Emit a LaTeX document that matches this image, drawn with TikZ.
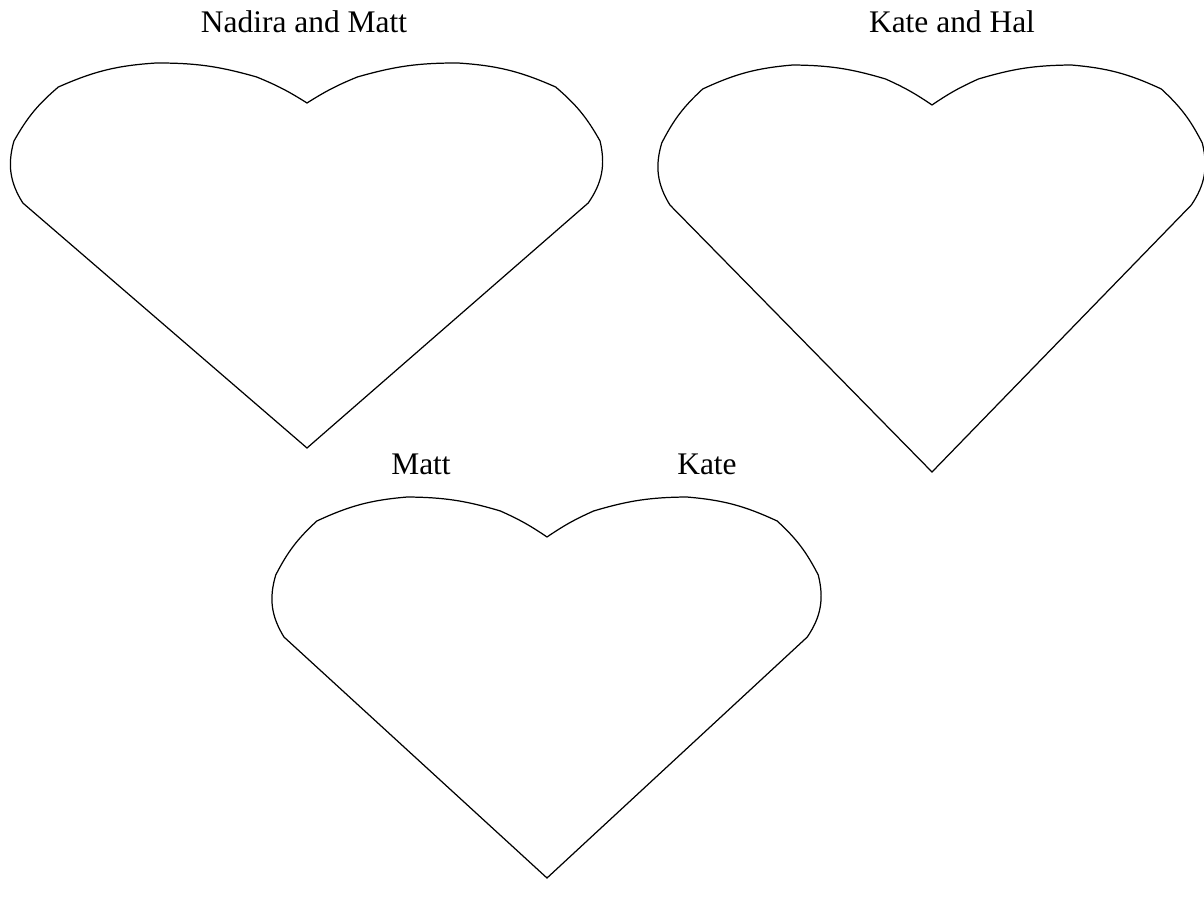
\documentclass[tikz,border=0pt]{standalone}
\usepackage{fontspec}
\setmainfont{Liberation Serif}
\usepackage{tikz}
\usetikzlibrary{positioning}

\begin{document}
\begin{tikzpicture}[x=0.02cm,y=0.02cm,
    heartline/.style={draw=black,line width=0.7pt,line join=miter},
    namelab/.style={anchor=base,inner sep=0pt,font=\fontsize{17.9}{20}\selectfont}
  ]
    \useasboundingbox (0,0) rectangle (1204,904);
    % hearts: centre x / notch y / half width / tip y
    \foreach \cx/\ny/\w/\by in {307/801/296/456,932/799/273/432,547/367/274/26}
      \draw[heartline] (\cx,\by)
        -- ({\cx-0.96*\w},{\ny-100}) to[bend left=24] ({\cx-0.99*\w},{\ny-38})
        to[bend left=10] ({\cx-0.84*\w},{\ny+16}) to[bend left=10] ({\cx-0.51*\w},{\ny+40})
        to[bend left=8] ({\cx-0.17*\w},{\ny+26}) to[bend left=5] (\cx,\ny)
        to[bend left=5] ({\cx+0.17*\w},{\ny+26}) to[bend left=8] ({\cx+0.51*\w},{\ny+40})
        to[bend left=10] ({\cx+0.84*\w},{\ny+16}) to[bend left=10] ({\cx+0.99*\w},{\ny-38})
        to[bend left=24] ({\cx+0.95*\w},{\ny-100}) -- cycle;
    \node[namelab] (nm) at (304,871) {Nadira and Matt};
    \node[namelab] (kh) at (952,871) {Kate and Hal};
    \node[namelab] (m) at (421,430) {Matt};
    \node[namelab] (k) at (707,430) {Kate};
\end{tikzpicture}
\end{document}
